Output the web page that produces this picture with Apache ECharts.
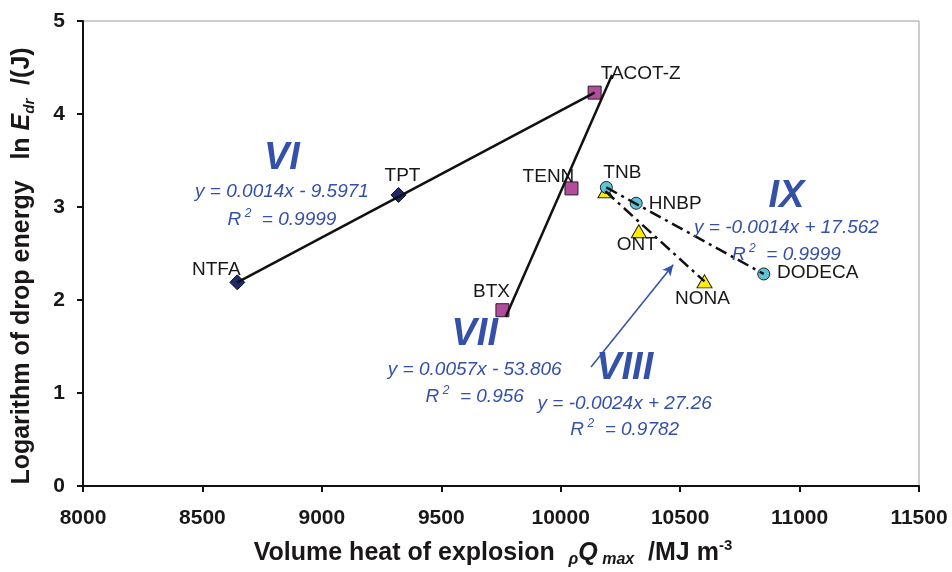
<!DOCTYPE html>
<html><head><meta charset="utf-8">
<script src="https://cdn.jsdelivr.net/npm/echarts@6/dist/echarts.min.js"></script>
<style>html,body{margin:0;padding:0;background:#fff}#c{width:952px;height:572px}</style>
</head><body><div id="c"></div>
<script>
// ---------- data ----------
const xTicks = [8000, 8500, 9000, 9500, 10000, 10500, 11000, 11500];
const yTicks = [0, 1, 2, 3, 4, 5];

const namesVI = ['NTFA', 'TPT'];
const xVI = [8646, 9321];
const yVI = [2.19, 3.13];

const namesVII = ['BTX', 'TENN', 'TACOT-Z'];
const xVII = [9756, 10045, 10142];
const yVII = [1.89, 3.20, 4.23];

const namesVIII = ['TNB', 'ONT', 'NONA'];
const xVIII = [10187, 10327, 10602];
const yVIII = [3.17, 2.74, 2.20];

const namesIX = ['TNB', 'HNBP', 'DODECA'];
const xIX = [10191, 10316, 10850];
const yIX = [3.21, 3.04, 2.28];

// trend line end points
const trendVIx = [8646, 10142], trendVIy = [2.19, 4.23];
const trendVIIx = [9770, 10215], trendVIIy = [1.82, 4.42];
const trendVIIIx = [10187, 10602], trendVIIIy = [3.17, 2.20];
const trendIXx = [10191, 10850], trendIXy = [3.21, 2.28];
const arrowX = [10127, 10471], arrowY = [1.28, 2.38];

const groupNames = ['VI', 'VII', 'VIII', 'IX'];
const equations = ['y = 0.0014x - 9.5971', 'y = 0.0057x - 53.806', 'y = -0.0024x + 27.26', 'y = -0.0014x + 17.562'];
const r2Values = ['0.9999', '0.956', '0.9782', '0.9999'];

// ---------- layout / style ----------
const FONT = 'Liberation Sans, Arial, Helvetica, sans-serif';
const BLUE = '#3450a8';
const TXT = '#1a1718';
// annotation anchors (data coords): [x, yTitle, yEq, yR2]
const annotPos = [
  [8833, 3.52, 3.165, 2.868],
  [9640, 1.624, 1.247, 0.960],
  [10268, 1.266, 0.882, 0.602],
  [10945, 3.111, 2.777, 2.491]
];
const labelOffsets = {
  'NTFA': [-21, -13], 'TPT': [4, -19], 'TACOT-Z': [46, -19], 'TENN': [-23, -12],
  'BTX': [-11, -18], 'TNB': [16, -15], 'HNBP': [39, 0], 'ONT': [-2, 14],
  'NONA': [-2, 17], 'DODECA': [54, -1]
};

function mkLabel(n) {
  return {show: true, position: 'inside', offset: labelOffsets[n], formatter: n,
    color: TXT, fontSize: 19, fontFamily: FONT, textBorderWidth: 0, opacity: 1};
}
function pts(names, xs, ys, skip) {
  return xs.map((x, i) => {
    const n = names[i];
    return {value: [x, ys[i]], name: n, label: (skip && skip.indexOf(n) >= 0) ? {show: false} : mkLabel(n)};
  });
}
function seg(xs, ys) { return xs.map((x, i) => [x, ys[i]]); }

const annotData = [];
groupNames.forEach((g, i) => {
  const p = annotPos[i];
  annotData.push({value: [p[0], p[1]], label: {formatter: '{t|' + g + '}'}});
  annotData.push({value: [p[0], p[2]], label: {formatter: '{e|' + equations[i] + '}'}});
  annotData.push({value: [p[0], p[3]], label: {formatter: '{e|R}{s| 2}{e|  = ' + r2Values[i] + '}'}});
});

const lineStyleBase = {color: '#111', width: 2.5};
const tickFmt = v => String(v);

const option = {
  animation: false,
  backgroundColor: '#fff',
  grid: {left: 83, right: 33, top: 21, bottom: 86, show: true, borderColor: '#9a9a9a', borderWidth: 1},
  xAxis: {
    type: 'value', min: xTicks[0], max: xTicks[xTicks.length - 1], interval: 500,
    axisLine: {onZero: false, lineStyle: {color: '#111', width: 2}},
    axisTick: {show: true, length: 6, lineStyle: {color: '#111', width: 2}},
    axisLabel: {fontSize: 21, fontWeight: 'bold', color: TXT, margin: 22, fontFamily: FONT, formatter: tickFmt},
    splitLine: {show: false}
  },
  yAxis: {
    type: 'value', min: yTicks[0], max: yTicks[yTicks.length - 1], interval: 1,
    axisLine: {show: true, onZero: false, lineStyle: {color: '#111', width: 2}},
    axisTick: {show: true, length: 6, lineStyle: {color: '#111', width: 2}},
    axisLabel: {fontSize: 21, fontWeight: 'bold', color: TXT, margin: 18, fontFamily: FONT, formatter: tickFmt},
    splitLine: {show: false}
  },
  graphic: [
    {
      type: 'text', x: 22, y: 266, rotation: Math.PI / 2, z: 10,
      style: {
        text: '{b|Logarithm of drop energy   ln }{i|E}{sub|dr}{b|  /(J)}',
        align: 'center', verticalAlign: 'middle',
        rich: {
          b: {fontSize: 25, fontWeight: 'bold', fill: TXT, fontFamily: FONT, lineHeight: 30},
          i: {fontSize: 25, fontWeight: 'bold', fontStyle: 'italic', fill: TXT, fontFamily: FONT, lineHeight: 30},
          sub: {fontSize: 15, fontWeight: 'bold', fontStyle: 'italic', fill: TXT, fontFamily: FONT, verticalAlign: 'bottom', lineHeight: 15}
        }
      }
    },
    {
      type: 'text', x: 493, y: 553, z: 10,
      style: {
        text: '{b|Volume heat of explosion  }{sub|ρ}{i|Q}{sub| max}{b|  /MJ m}{sup|-3}',
        align: 'center', verticalAlign: 'middle',
        rich: {
          b: {fontSize: 25, fontWeight: 'bold', fill: TXT, fontFamily: FONT, lineHeight: 30},
          i: {fontSize: 25, fontWeight: 'bold', fontStyle: 'italic', fill: TXT, fontFamily: FONT, lineHeight: 30},
          sub: {fontSize: 16, fontWeight: 'bold', fontStyle: 'italic', fill: TXT, fontFamily: FONT, verticalAlign: 'bottom', lineHeight: 16},
          sup: {fontSize: 15, fontWeight: 'bold', fill: TXT, fontFamily: FONT, verticalAlign: 'top', lineHeight: 15}
        }
      }
    }
  ],
  series: [
    // trend lines
    {type: 'line', data: seg(trendVIx, trendVIy), symbol: 'none', z: 5, lineStyle: Object.assign({}, lineStyleBase), silent: true},
    {type: 'line', data: seg(trendVIIx, trendVIIy), symbol: 'none', z: 5, lineStyle: Object.assign({}, lineStyleBase), silent: true},
    {type: 'line', data: seg(trendVIIIx, trendVIIIy), symbol: 'none', z: 5, lineStyle: Object.assign({}, lineStyleBase, {type: [12, 5, 3, 5]}), silent: true},
    {type: 'line', data: seg(trendIXx, trendIXy), symbol: 'none', z: 5, lineStyle: Object.assign({}, lineStyleBase, {type: [12, 5, 3, 5]}), silent: true},
    // markers
    {type: 'scatter', z: 3, name: 'VI', data: pts(namesVI, xVI, yVI), symbol: 'diamond', symbolSize: 15,
      itemStyle: {color: '#1e2a6c', borderColor: '#111', borderWidth: 1, opacity: 1}},
    {type: 'scatter', z: 3, name: 'VII', data: pts(namesVII, xVII, yVII), symbol: 'rect', symbolSize: 13,
      itemStyle: {color: '#b44c9e', borderColor: '#222', borderWidth: 1, opacity: 1}},
    {type: 'scatter', z: 3, name: 'VIII', data: pts(namesVIII, xVIII, yVIII, ['TNB']), symbol: 'triangle', symbolSize: [15, 13],
      itemStyle: {color: '#ffec00', borderColor: '#222', borderWidth: 1, opacity: 1}},
    {type: 'scatter', z: 3, name: 'IX', data: pts(namesIX, xIX, yIX), symbol: 'circle', symbolSize: 12,
      itemStyle: {color: '#5cc5da', borderColor: '#222', borderWidth: 1, opacity: 1}},
    // arrow
    {type: 'line', data: [], z: 6, silent: true,
      markLine: {silent: true, symbol: ['none', 'arrow'], symbolSize: [8, 11], animation: false,
        label: {show: false}, lineStyle: {color: BLUE, width: 1.5, type: 'solid'},
        data: [[{coord: [arrowX[0], arrowY[0]]}, {coord: [arrowX[1], arrowY[1]]}]]}},
    // annotations
    {type: 'scatter', data: annotData, symbolSize: 1, z: 7, silent: true,
      itemStyle: {color: 'rgba(255,255,255,0)', opacity: 1},
      label: {show: true, position: 'inside', textBorderWidth: 0, opacity: 1,
        rich: {
          t: {fontSize: 38, fontWeight: 'bold', fontStyle: 'italic', color: BLUE, fontFamily: FONT},
          e: {fontSize: 19, fontStyle: 'italic', color: BLUE, fontFamily: FONT, lineHeight: 24},
          s: {fontSize: 12, fontStyle: 'italic', color: BLUE, fontFamily: FONT, verticalAlign: 'top', lineHeight: 12}
        }}}
  ]
};
const chart = echarts.init(document.getElementById('c'), null, {renderer: 'canvas'});
chart.setOption(option);
</script></body></html>
